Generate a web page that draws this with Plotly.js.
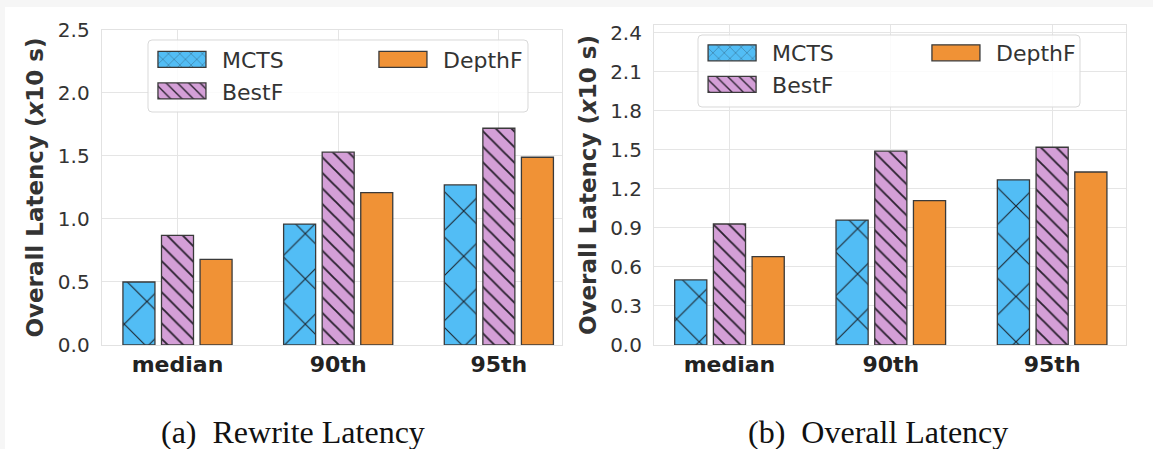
<!DOCTYPE html>
<html>
<head>
<meta charset="utf-8">
<script src="https://cdn.plot.ly/plotly-3.0.1.min.js"></script>
<style>
html, body { margin: 0; padding: 0; background: #f6f6f6; }
#chart { position: absolute; left: 5px; top: 7px; width: 1148px; height: 442px; background: #ffffff; }
</style>
</head>
<body>
<div id="chart"></div>
<script>
// ---- data ----
const categories = ['median', '90th', '95th'];
const seriesNames = ['MCTS', 'BestF', 'DepthF'];
const rewriteMCTS = [0.50, 0.96, 1.27];
const rewriteBestF = [0.87, 1.53, 1.72];
const rewriteDepthF = [0.68, 1.21, 1.49];
const overallMCTS = [0.50, 0.96, 1.27];
const overallBestF = [0.93, 1.49, 1.52];
const overallDepthF = [0.68, 1.11, 1.33];
const leftTicks = [0.0, 0.5, 1.0, 1.5, 2.0, 2.5];
const rightTicks = [0.0, 0.3, 0.6, 0.9, 1.2, 1.5, 1.8, 2.1, 2.4];
const captions = ['(a)\u00a0\u00a0Rewrite Latency', '(b)\u00a0\u00a0Overall Latency'];
const yTitle = 'Overall Latency (<i>x</i>10 s)';

// ---- styles ----
const colors = { MCTS: '#52bdf5', BestF: '#d49fd7', DepthF: '#f09236' };
const patterns = {
  MCTS: { shape: 'x', size: 32, solidity: 0.07, fgcolor: '#1c2630', bgcolor: '#52bdf5', fillmode: 'replace' },
  BestF: { shape: '\\', size: 11, solidity: 0.17, fgcolor: '#2b2230', bgcolor: '#d49fd7', fillmode: 'replace' },
  DepthF: null
};
// which legend column each series goes to
const legendOf = {
  left: { MCTS: 'legend', BestF: 'legend', DepthF: 'legend3' },
  right: { MCTS: 'legend2', BestF: 'legend2', DepthF: 'legend4' }
};

function makeTrace(name, vals, xa, ya, side) {
  const marker = { color: colors[name], line: { color: '#3a3a3a', width: 1.3 } };
  if (patterns[name]) marker.pattern = patterns[name];
  return {
    type: 'bar', name: name, x: categories, y: vals,
    xaxis: xa, yaxis: ya, marker: marker,
    legend: legendOf[side][name],
    hoverinfo: 'skip'
  };
}

const data = [
  makeTrace('MCTS', rewriteMCTS, 'x', 'y', 'left'),
  makeTrace('BestF', rewriteBestF, 'x', 'y', 'left'),
  makeTrace('DepthF', rewriteDepthF, 'x', 'y', 'left'),
  makeTrace('MCTS', overallMCTS, 'x2', 'y2', 'right'),
  makeTrace('BestF', overallBestF, 'x2', 'y2', 'right'),
  makeTrace('DepthF', overallDepthF, 'x2', 'y2', 'right')
];

const tickFont = { family: 'DejaVu Sans', size: 20, color: '#333333' };
const xTickFont = { family: 'DejaVu Sans', size: 22, color: '#222222', weight: 'bold' };
const titleFont = { family: 'DejaVu Sans', size: 23, color: '#333333', weight: 'bold' };
const gridColor = '#e5e5e5';

function xAxis(domain, range, anchor) {
  return {
    domain: domain, range: range, anchor: anchor, type: 'category',
    showgrid: true, gridcolor: gridColor, gridwidth: 1,
    showline: true, mirror: true, linecolor: '#e2e2e2', linewidth: 1,
    ticks: '', tickfont: xTickFont, zeroline: false, fixedrange: true
  };
}
function yAxis(domain, range, anchor, ticks) {
  return {
    domain: domain, range: range, anchor: anchor,
    tickmode: 'array', tickvals: ticks, tickformat: '.1f',
    showgrid: true, gridcolor: gridColor, gridwidth: 1,
    showline: true, mirror: true, linecolor: '#e2e2e2', linewidth: 1,
    ticks: '', ticklabelstandoff: 7, tickfont: tickFont, zeroline: false, fixedrange: true,
    title: { text: yTitle, font: titleFont, standoff: 7 }
  };
}

const legendFont = { family: 'DejaVu Sans', size: 22, color: '#333333' };
const plainLegend = {
  orientation: 'v', bgcolor: 'rgba(0,0,0,0)', borderwidth: 0,
  font: legendFont, itemwidth: 63, xanchor: 'left', yanchor: 'top',
  itemclick: false, itemdoubleclick: false
};

// rounded legend frame (paper coords), like matplotlib's fancybox legend
function roundedFrame(x0, y0, x1, y1) {
  const dx = 4 / 1148, dy = 4 / 442;
  const p = 'M' + (x0 + dx) + ',' + y1 + ' L' + (x1 - dx) + ',' + y1 +
    ' Q' + x1 + ',' + y1 + ' ' + x1 + ',' + (y1 - dy) +
    ' L' + x1 + ',' + (y0 + dy) + ' Q' + x1 + ',' + y0 + ' ' + (x1 - dx) + ',' + y0 +
    ' L' + (x0 + dx) + ',' + y0 + ' Q' + x0 + ',' + y0 + ' ' + x0 + ',' + (y0 + dy) +
    ' L' + x0 + ',' + (y1 - dy) + ' Q' + x0 + ',' + y1 + ' ' + (x0 + dx) + ',' + y1 + ' Z';
  return { type: 'path', xref: 'paper', yref: 'paper', path: p, layer: 'above',
    fillcolor: 'rgba(255,255,255,0.85)', line: { color: '#d9d9d9', width: 1 } };
}

const layout = {
  width: 1148, height: 442,
  margin: { l: 0, r: 0, t: 0, b: 0 },
  paper_bgcolor: '#ffffff', plot_bgcolor: '#ffffff',
  barmode: 'group', bargap: 0.28, bargroupgap: 0.17,
  showlegend: true,
  xaxis: xAxis([0.0842, 0.4852], [-0.472, 2.393], 'y'),
  yaxis: yAxis([0.2353, 0.948], [0, 2.5], 'x', leftTicks),
  xaxis2: xAxis([0.5653, 0.9765], [-0.468, 2.458], 'y2'),
  yaxis2: yAxis([0.2353, 0.9593], [0, 2.46], 'x2', rightTicks),
  legend: Object.assign({}, plainLegend, { x: 0.1254, y: 0.9286 }),
  legend3: Object.assign({}, plainLegend, { x: 0.3179, y: 0.9286 }),
  legend2: Object.assign({}, plainLegend, { x: 0.6046, y: 0.9434 }),
  legend4: Object.assign({}, plainLegend, { x: 0.7996, y: 0.9434 }),
  shapes: [
    roundedFrame(0.12457, 0.76244, 0.45557, 0.92534),
    roundedFrame(0.60366, 0.77376, 0.93641, 0.93665)
  ],
  annotations: [
    { text: captions[0], xref: 'paper', yref: 'paper', x: 0.2505, y: 0.039, xanchor: 'center', yanchor: 'middle',
      showarrow: false, font: { family: 'Liberation Serif', size: 32, color: '#111111' } },
    { text: captions[1], xref: 'paper', yref: 'paper', x: 0.7605, y: 0.039, xanchor: 'center', yanchor: 'middle',
      showarrow: false, font: { family: 'Liberation Serif', size: 32, color: '#111111' } }
  ]
};

Plotly.newPlot('chart', data, layout, { staticPlot: true, displayModeBar: false }).then(function (gd) {
  // widen legend swatches to match the reference's wide rectangular patches
  gd.querySelectorAll('path.legendbar, path.legendundefined').forEach(function (p) {
    p.setAttribute('d', 'M20.5,8H-27.5V-8H20.5Z');
  });
});
</script>
</body>
</html>
